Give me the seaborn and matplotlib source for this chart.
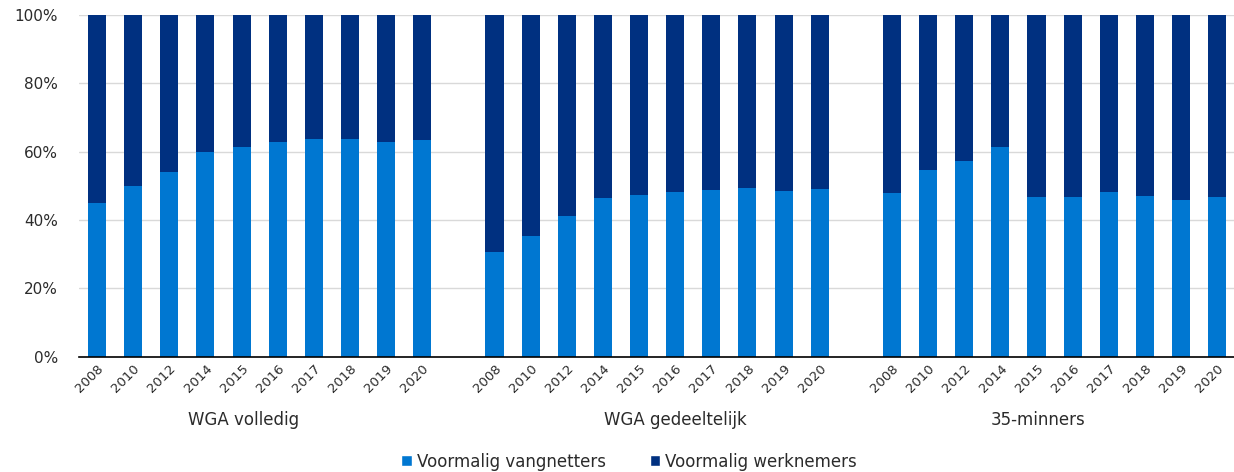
import pandas as pd
import matplotlib.pyplot as plt
import matplotlib.transforms as mtransforms
from matplotlib.patches import Patch
from matplotlib.ticker import PercentFormatter, MultipleLocator
import seaborn as sns

# --- data (share of "Voormalig vangnetters", %) ---
groups = ['WGA volledig', 'WGA gedeeltelijk', '35-minners']
years = ['2008', '2010', '2012', '2014', '2015', '2016', '2017', '2018', '2019', '2020']
vangnetters_volledig = [45.0, 50.0, 54.0, 59.8, 61.4, 63.0, 63.8, 63.8, 62.8, 63.4]
vangnetters_gedeeltelijk = [30.8, 35.3, 41.2, 46.4, 47.3, 48.3, 48.8, 49.3, 48.6, 49.1]
vangnetters_35min = [47.8, 54.7, 57.3, 61.4, 46.8, 46.7, 48.2, 47.1, 45.8, 46.7]
series_names = ['Voormalig vangnetters', 'Voormalig werknemers']

light = '#0077D1'
dark = '#003080'
text_col = '#2b2b2b'

sns.set_style('white')
plt.rcParams['font.family'] = ['DejaVu Sans']

shares = [vangnetters_volledig, vangnetters_gedeeltelijk, vangnetters_35min]
rows, order, labels = [], [], []
for gi, (g, vals) in enumerate(zip(groups, shares)):
    if gi > 0:
        order.append(' ' * gi)   # empty slot between groups
        labels.append('')
    for yr, v in zip(years, vals):
        key = f'{g} {yr}'
        order.append(key)
        labels.append(yr)
        rows.append({'slot': key, 'vangnetters': v, 'totaal': 100.0})
df = pd.DataFrame(rows)

fig = plt.figure(figsize=(12.34, 4.72), dpi=100)
ax = fig.add_axes([0.064, 0.244, 0.937, 0.724])

sns.barplot(data=df, x='slot', y='totaal', order=order, color=dark,
            saturation=1, width=0.5, errorbar=None, linewidth=0, ax=ax)
sns.barplot(data=df, x='slot', y='vangnetters', order=order, color=light,
            saturation=1, width=0.5, errorbar=None, linewidth=0, ax=ax)

ax.set_xlim(-0.5, len(order) - 0.5)
ax.set_ylim(0, 100)
ax.yaxis.set_major_locator(MultipleLocator(20))
ax.yaxis.set_major_formatter(PercentFormatter(100, decimals=0))
ax.grid(axis='y', color='#d9d9d9', linewidth=1)
ax.set_axisbelow(True)
for s in ['top', 'right', 'left']:
    ax.spines[s].set_visible(False)
ax.spines['bottom'].set_color('black')
ax.spines['bottom'].set_linewidth(1.2)
ax.set_xlabel('')
ax.set_ylabel('')

ax.set_xticks(range(len(order)))
ax.set_xticklabels(labels, rotation=45, ha='right', rotation_mode='anchor',
                   fontsize=9.5, color=text_col)
ax.tick_params(axis='x', length=0, pad=4)
ax.tick_params(axis='y', length=0, pad=15, labelsize=11, labelcolor=text_col)

# group labels under the year ticks
trans = mtransforms.blended_transform_factory(ax.transData, ax.transAxes)
for pos, g in zip([4.05, 16.0, 26.05], groups):
    ax.text(pos, -0.185, g, transform=trans, ha='center', va='center',
            fontsize=12, color=text_col)

handles = [Patch(facecolor=light, label=series_names[0]),
           Patch(facecolor=dark, label=series_names[1])]
fig.legend(handles=handles, loc='center', bbox_to_anchor=(0.51, 0.022), ncol=2,
           frameon=False, fontsize=12, handlelength=0.65, handleheight=0.65,
           handletextpad=0.3, columnspacing=2.6, labelcolor=text_col)

fig.savefig('out.png', dpi=100)
plt.close(fig)
